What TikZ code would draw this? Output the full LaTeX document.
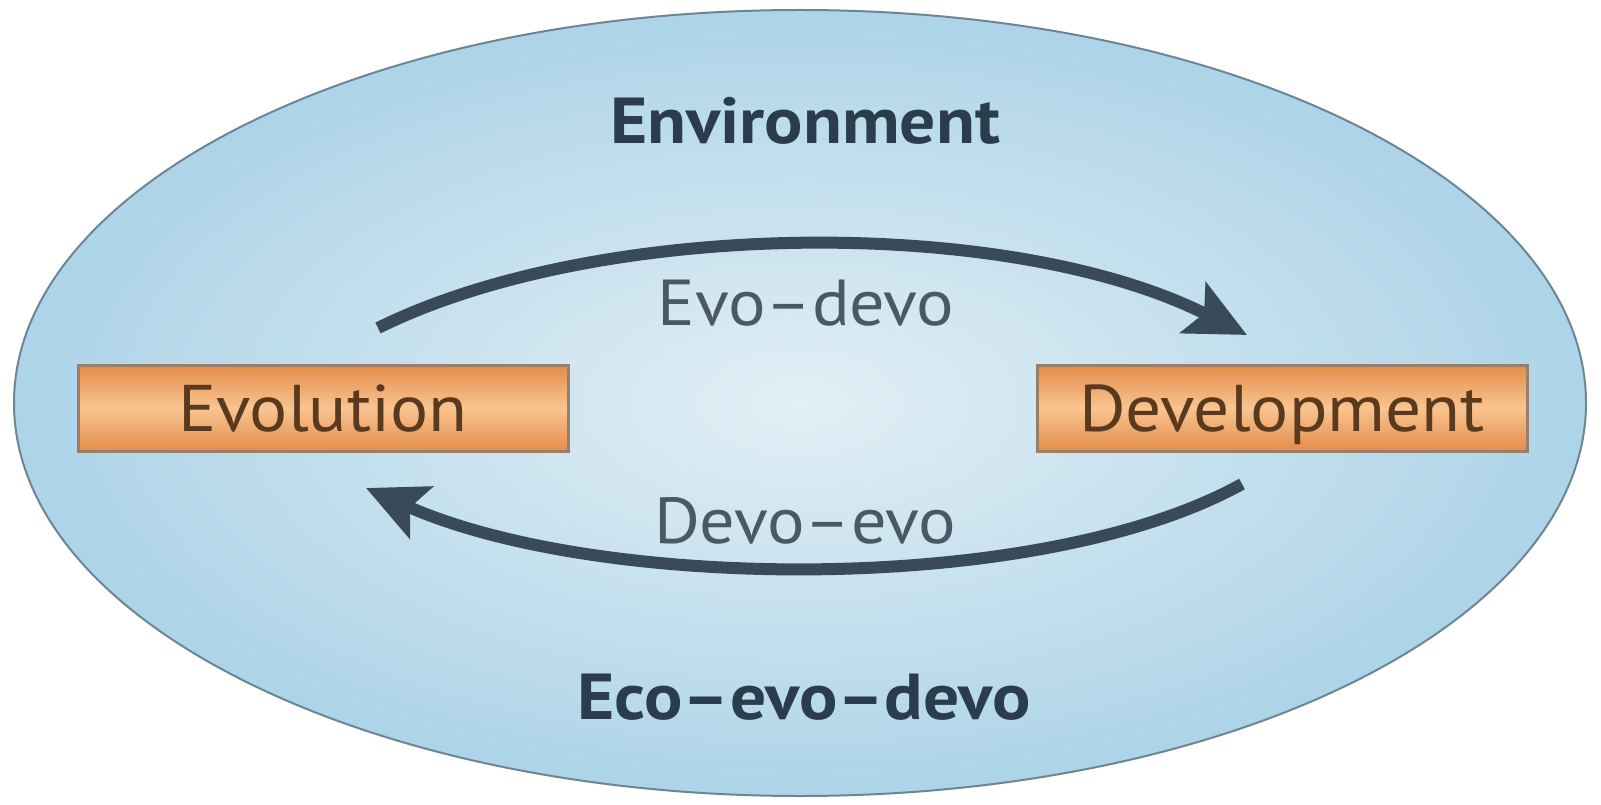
\documentclass[tikz,border=0pt]{standalone}
\usepackage{fontspec}
\setmainfont{PT Sans}[FakeStretch=1.08]
\newfontfamily\headfont{PT Sans}[FakeStretch=1.1]
\usetikzlibrary{shapes.geometric,arrows.meta}
\definecolor{envedge}{HTML}{ADD4E8}
\definecolor{envmid}{HTML}{E2EFF5}
\definecolor{envline}{HTML}{6E8694}
\definecolor{boxdark}{HTML}{E48C4A}
\definecolor{boxlight}{HTML}{F9C490}
\definecolor{boxline}{HTML}{9A7E6A}
\definecolor{boxtext}{HTML}{5A3A1E}
\definecolor{navy}{HTML}{2B3C4C}
\definecolor{arrowc}{HTML}{394B5B}
\tikzset{
  procbox/.style={rectangle, draw=boxline, line width=3pt, minimum width=490pt, minimum height=86pt,
    top color=boxdark, bottom color=boxdark, middle color=boxlight, text=boxtext,
    font=\fontsize{66pt}{70pt}\selectfont, inner sep=0pt, text height=46pt, text depth=0pt},
  heading/.style={text=navy, font=\headfont\fontsize{65pt}{70pt}\selectfont\bfseries, inner sep=0pt},
  flowlabel/.style={text=navy!85!white, font=\fontsize{65pt}{70pt}\selectfont, inner sep=0pt},
  flowarrow/.style={draw=arrowc, line width=12pt, -{Stealth[length=60pt,width=56pt,inset=12pt]}}
}
\begin{document}
\begin{tikzpicture}[x=1pt,y=-1pt]
\useasboundingbox (0,0) rectangle (1601,805);
\fill[white] (0,0) rectangle (1601,805);
\node[ellipse, draw=envline, line width=2pt, inner color=envmid, outer color=envedge,
  minimum width=1572pt, minimum height=786pt] (env) at (800,403) {};
\node[procbox] (evo) at (323,408) {Evolution};
\node[procbox] (dev) at (1282,408) {Development};
\node[heading] (envt) at (805,121) {Environment};
\node[heading] (eed) at (804,697) {Eco–evo–devo};
\node[flowlabel] (ed) at (806,303) {Evo–devo};
\node[flowlabel] (de) at (805,521) {Devo–evo};
\coordinate (a1s) at (378,328);
\coordinate (a1e) at (1247,335);
\coordinate (a2s) at (1242,484);
\coordinate (a2e) at (366,488);
\draw[flowarrow] (a1s) .. controls (600,218) and (1010,215) .. (a1e);
\draw[flowarrow] (a2s) .. controls (1040,596) and (600,592) .. (a2e);
\end{tikzpicture}
\end{document}
